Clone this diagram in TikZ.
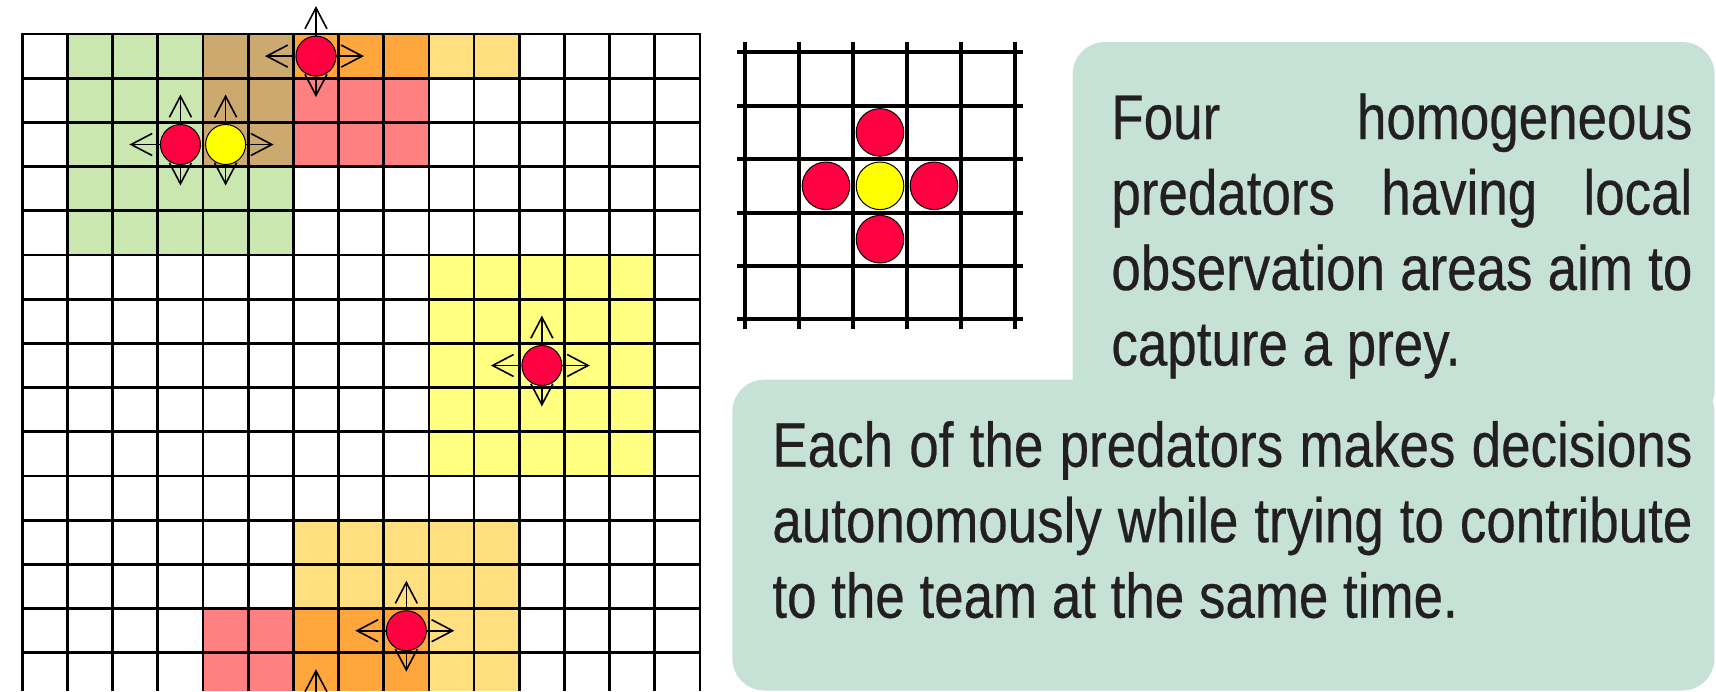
\documentclass[tikz,border=0pt]{standalone}
\usepackage{fontspec}
\setmainfont{Liberation Sans}[FakeStretch=0.84, FakeBold=0.4]
\usetikzlibrary{arrows.meta}

\definecolor{seegreen}{RGB}{201,231,174}
\definecolor{seeoverlap}{RGB}{204,169,110}
\definecolor{seepink}{RGB}{255,128,128}
\definecolor{seeorange}{RGB}{255,166,60}
\definecolor{seesand}{RGB}{255,223,128}
\definecolor{seeyellow}{RGB}{255,255,128}
\definecolor{predred}{RGB}{255,0,64}
\definecolor{preyyellow}{RGB}{255,255,0}
\definecolor{panelmint}{RGB}{198,226,214}
\definecolor{ink}{RGB}{35,31,32}

\newcommand\panelfont{\fontsize{31.5}{37.75}\selectfont\hyphenpenalty=10000\tolerance=9999\relax}

\tikzset{
  cellline/.style={line width=1.35pt, line cap=rect},
  miniline/.style={line width=2pt},
  predator/.style={circle, draw=black, line width=0.5pt, fill=predred,
    minimum size=20pt, inner sep=0pt},
  prey/.style={predator, fill=preyyellow},
  bigpredator/.style={predator, minimum size=23.8pt},
  bigprey/.style={prey, minimum size=23.8pt},
  move/.style={-{Straight Barb[length=10.5pt,width=11pt]}, line width=0.8pt},
  panel/.style={fill=panelmint, rounded corners=16pt, inner sep=0pt, anchor=north west},
  paneltext/.style={text=ink, font=\panelfont, align=justify, inner sep=0pt, anchor=base west}
}

% arrows of the possible moves: angle/length pairs
\newcommand\moves[2]{%
  \foreach \ang/\len in {#2}{%
    \path (#1.center) ++(\ang:\len) coordinate (#1-\ang);
    \draw[move] (#1) -- (#1-\ang);}}

\begin{document}
\begin{tikzpicture}[x=0.5pt, y=-0.5pt]
  \useasboundingbox (0,0) rectangle (1716,691);

  % torus world with the observation areas
  \begin{scope}[shift={(22.3,34)}, x=22.59pt, y=-22.1pt]
    \clip (-1,-1) rectangle (16,14.86);
    \fill[seegreen] (1,0) rectangle (4,3) (1,3) rectangle (6,5);
    \fill[seeoverlap] (4,0) rectangle (6,3);
    \fill[seepink] (6,1) rectangle (9,3) (4,13) rectangle (6,16);
    \fill[seeorange] (6,0) rectangle (9,1) (6,13) rectangle (9,16);
    \fill[seesand] (9,0) rectangle (11,1) (6,11) rectangle (11,13) (9,13) rectangle (11,16);
    \fill[seeyellow] (9,5) rectangle (14,10);
    \foreach \i in {0,...,15} {
      \draw[cellline] (\i,0) -- (\i,16);
      \draw[cellline] (0,\i) -- (15,\i);
    }
    \node[predator] (hunterA) at (3.5,2.5) {};
    \node[prey] (prey) at (4.5,2.5) {};
    \node[predator] (hunterB) at (6.5,0.5) {};
    \node[predator] (hunterC) at (11.5,7.5) {};
    \node[predator] (hunterD) at (8.5,13.5) {};
    \coordinate (hunterBwrap) at (6.5,15.5);
  \end{scope}

  \moves{hunterA}{270/50,90/41,180/51}
  \moves{prey}{270/50,90/41,0/48}
  \moves{hunterB}{270/50,90/41,180/51,0/48}
  \moves{hunterC}{270/50,90/41,180/51,0/48}
  \moves{hunterD}{270/50,90/41,180/51,0/48}
  \moves{hunterBwrap}{270/50}

  % captured prey
  \begin{scope}[shift={(745,52.3)}, x=27pt, y=-26.7pt]
    \foreach \i in {0,...,5} {
      \draw[miniline] (\i,-0.19) -- (\i,5.19);
      \draw[miniline] (-0.15,\i) -- (5.15,\i);
    }
    \node[bigprey] (caught) at (2.5,2.5) {};
    \node[bigpredator] (northP) at (2.5,1.5) {};
    \node[bigpredator] (westP) at (1.5,2.5) {};
    \node[bigpredator] (eastP) at (3.5,2.5) {};
    \node[bigpredator] (southP) at (2.5,3.5) {};
  \end{scope}

  \node[panel, minimum width=320.9pt, minimum height=190pt] (topbox) at (1072.3,41.7) {};
  \node[panel, minimum width=491pt, minimum height=155.4pt] (lowbox) at (732,379.3) {};

  \node[paneltext, text width=290.5pt] (aimtext) at (1111,139)
    {Four homogeneous\linebreak predators having local\linebreak observation areas aim to\linebreak capture a prey.};
  \node[paneltext, text width=460pt] (teamtext) at (772,466.7)
    {Each of the predators makes decisions\linebreak autonomously while trying to contribute\linebreak to the team at the same time.};
\end{tikzpicture}
\end{document}
